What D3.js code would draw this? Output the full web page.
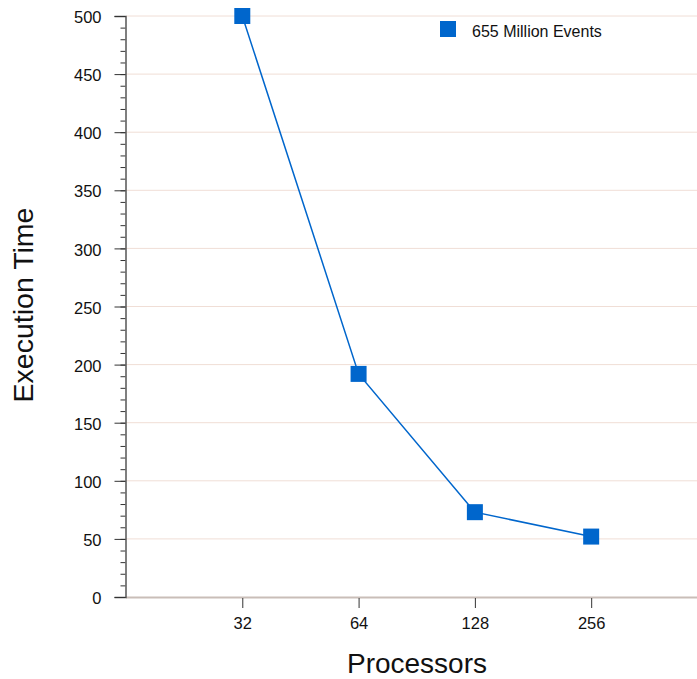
<!DOCTYPE html>
<html>
<head>
<meta charset="utf-8">
<script src="https://cdn.jsdelivr.net/npm/d3@7"></script>
<style>
  body { margin: 0; background: #fff; }
  svg { display: block; font-family: "Liberation Sans", Arial, sans-serif; }
</style>
</head>
<body>
<svg id="chart" width="697" height="679"></svg>
<script>
// data
let processors = [32, 64, 128, 256];
let execTime = [500, 192, 73, 52];
let seriesName = "655 Million Events";
let yTicks = [0, 50, 100, 150, 200, 250, 300, 350, 400, 450, 500];

let svg = d3.select("#chart");
let margin = {left: 126, right: 0, top: 16, bottom: 82};
let W = 697, H = 679;
let color = "#0066cc";
let font = "Liberation Sans, Arial, sans-serif";

// processors are evenly spaced on a log2 axis
let x = d3.scaleLog().base(2)
  .domain([16, Math.pow(2, 8.91)])
  .range([margin.left, W - margin.right]);

let y = d3.scaleLinear()
  .domain([0, 500])
  .range([H - margin.bottom, margin.top]);

// gridlines
svg.append("g")
  .selectAll("line")
  .data(yTicks.filter(d => d > 0))
  .join("line")
  .attr("x1", margin.left)
  .attr("x2", W - margin.right)
  .attr("y1", d => y(d))
  .attr("y2", d => y(d))
  .style("stroke", "#f0ded6")
  .style("stroke-width", 1);

// x baseline
svg.append("line")
  .attr("x1", margin.left)
  .attr("x2", W - margin.right)
  .attr("y1", y(0) + 0.5)
  .attr("y2", y(0) + 0.5)
  .style("stroke", "#c9beb8")
  .style("stroke-width", 2);

// y axis (major + minor ticks)
let yAxis = svg.append("g")
  .attr("transform", "translate(" + (margin.left - 0.5) + ",0)");

yAxis.append("g")
  .call(d3.axisLeft(y).tickValues(d3.range(0, 501, 10)).tickSize(5).tickFormat(""))
  .call(g => g.select(".domain").remove())
  .selectAll("line").style("stroke", "#333");

yAxis.append("g")
  .call(d3.axisLeft(y).tickValues(yTicks).tickSize(11).tickPadding(13))
  .call(g => g.select(".domain").style("stroke", "#555").style("stroke-width", 1.5))
  .call(g => g.selectAll("line").style("stroke", "#333"))
  .selectAll("text")
  .attr("dy", "0.4em")
  .style("font-size", "16.5px")
  .style("fill", "#111")
  .style("font-family", font);

// x axis ticks
let xAxis = svg.append("g")
  .attr("transform", "translate(0," + (y(0) + 1) + ")")
  .call(d3.axisBottom(x).tickValues(processors).tickFormat(d3.format("d")).tickSize(10).tickPadding(9));
xAxis.select(".domain").remove();
xAxis.selectAll("line").style("stroke", "#333");
xAxis.selectAll("text")
  .style("font-size", "16.5px")
  .style("fill", "#111")
  .style("font-family", font);

// series
let pts = processors.map((p, i) => ({p: p, t: execTime[i]}));

svg.append("path")
  .datum(pts)
  .attr("d", d3.line().x(d => x(d.p)).y(d => y(d.t)))
  .style("fill", "none")
  .style("stroke", color)
  .style("stroke-width", 1.5);

let sz = 16;
svg.append("g")
  .selectAll("rect")
  .data(pts)
  .join("rect")
  .attr("x", d => x(d.p) - sz / 2)
  .attr("y", d => y(d.t) - sz / 2)
  .attr("width", sz)
  .attr("height", sz)
  .style("fill", color);

// legend
svg.append("rect")
  .attr("x", 440).attr("y", 21)
  .attr("width", 16).attr("height", 16)
  .style("fill", color);
svg.append("text")
  .attr("x", 472).attr("y", 37)
  .text(seriesName)
  .style("font-size", "16px")
  .style("fill", "#111");

// axis titles
svg.append("text")
  .attr("x", 417).attr("y", 673)
  .attr("text-anchor", "middle")
  .text("Processors")
  .style("font-size", "28px")
  .style("fill", "#111");

svg.append("text")
  .attr("transform", "translate(32.5,305) rotate(-90)")
  .attr("text-anchor", "middle")
  .text("Execution Time")
  .style("font-size", "28.5px")
  .style("fill", "#111");
</script>
</body>
</html>
